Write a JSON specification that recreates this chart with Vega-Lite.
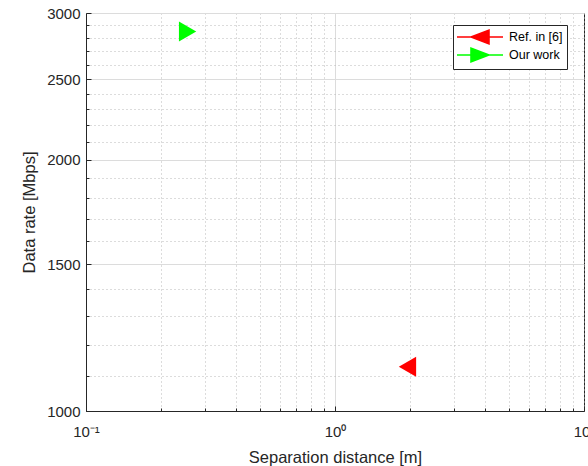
{
  "$schema": "https://vega.github.io/schema/vega-lite/v6.json",
  "width": 498,
  "height": 398,
  "autosize": {"type": "none"},
  "padding": {"left": 86, "top": 13, "right": 4, "bottom": 55},
  "background": "white",
  "config": {
    "view": {"stroke": "#262626", "strokeWidth": 1},
    "font": "Liberation Sans",
    "axis": {
      "domainColor": "#262626",
      "tickColor": "#262626",
      "labelColor": "#262626",
      "titleColor": "#262626",
      "labelFont": "Liberation Sans",
      "titleFont": "Liberation Sans",
      "labelFontSize": 15,
      "titleFontSize": 16.5,
      "titleFontWeight": "normal"
    },
    "legend": {
      "labelFont": "Liberation Sans",
      "labelFontSize": 12.5,
      "labelColor": "#000000"
    }
  },
  "data": {
    "values": [
      {"distance": 2, "rate": 1130, "series": "Ref. in [6]"},
      {"distance": 0.25, "rate": 2850, "series": "Our work"}
    ]
  },
  "layer": [
    {
      "mark": {"type": "point", "filled": true, "size": 400, "opacity": 1},
      "encoding": {
        "x": {
          "field": "distance",
          "type": "quantitative",
          "scale": {"type": "log", "domain": [0.1, 10], "nice": false},
          "axis": {
            "title": "Separation distance [m]",
            "values": [0.1, 0.2, 0.3, 0.4, 0.5, 0.6, 0.7, 0.8, 0.9, 1, 2, 3, 4, 5, 6, 7, 8, 9, 10],
            "labelExpr": "datum.value == 0.1 ? '10⁻¹' : datum.value == 1 ? '10⁰' : datum.value == 10 ? '10¹' : ''",
            "grid": true,
            "gridColor": {"condition": {"test": "datum.value == 1", "value": "#dcdcdc"}, "value": "#b8b8b8"},
            "gridDash": {"condition": {"test": "datum.value == 1", "value": []}, "value": [1, 3]},
            "gridWidth": 1,
            "tickSize": {"condition": {"test": "datum.value == 1 || datum.value == 0.1 || datum.value == 10", "value": -5}, "value": -3},
            "labelPadding": 18,
            "labelFlush": false,
            "labelOverlap": false,
            "titlePadding": 8
          }
        },
        "y": {
          "field": "rate",
          "type": "quantitative",
          "scale": {"type": "log", "domain": [1000, 3000], "nice": false},
          "axis": {
            "title": "Data rate [Mbps]",
            "values": [1000, 1100, 1200, 1300, 1400, 1500, 1600, 1700, 1800, 1900, 2000, 2100, 2200, 2300, 2400, 2500, 2600, 2700, 2800, 2900, 3000],
            "labelExpr": "datum.value % 500 == 0 ? datum.value : ''",
            "grid": true,
            "gridColor": {"condition": {"test": "datum.value % 500 == 0", "value": "#dcdcdc"}, "value": "#b8b8b8"},
            "gridDash": {"condition": {"test": "datum.value % 500 == 0", "value": []}, "value": [1, 3]},
            "gridWidth": 1,
            "tickSize": {"condition": {"test": "datum.value % 500 == 0", "value": -5}, "value": -3},
            "labelPadding": 11,
            "labelFlush": false,
            "labelOverlap": false,
            "titlePadding": 9
          }
        },
        "color": {
          "field": "series",
          "type": "nominal",
          "scale": {"domain": ["Ref. in [6]", "Our work"], "range": ["#ff0000", "#00ff00"]},
          "legend": null
        },
        "shape": {
          "field": "series",
          "type": "nominal",
          "scale": {
            "domain": ["Ref. in [6]", "Our work"],
            "range": ["M-1.116,0L0.616,-1L0.616,1Z", "M1.116,0L-0.616,-1L-0.616,1Z"]
          },
          "legend": null
        }
      }
    },
    {
      "mark": {"type": "point", "filled": true, "size": 0, "opacity": 1, "strokeWidth": 1.5},
      "encoding": {
        "x": {"field": "distance", "type": "quantitative"},
        "y": {"field": "rate", "type": "quantitative"},
        "color": {
          "field": "series",
          "type": "nominal",
          "scale": {"domain": ["Ref. in [6]", "Our work"], "range": ["#ff0000", "#00ff00"]},
          "legend": {
            "title": null,
            "orient": "none",
            "legendX": 367,
            "legendY": 12,
            "strokeColor": "#262626",
            "fillColor": "#ffffff",
            "padding": 4,
            "symbolSize": 196,
            "symbolOpacity": 1,
            "symbolStrokeWidth": 1.5,
            "symbolOffset": 15,
            "labelOffset": 21,
            "rowPadding": -2
          }
        },
        "stroke": {
          "field": "series",
          "type": "nominal",
          "scale": {"domain": ["Ref. in [6]", "Our work"], "range": ["#ff0000", "#00ff00"]}
        },
        "shape": {
          "field": "series",
          "type": "nominal",
          "scale": {
            "domain": ["Ref. in [6]", "Our work"],
            "range": ["M-3.29,0L3.29,0M-1.29,0L1.29,-1L1.29,1Z", "M-3.29,0L3.29,0M1.29,0L-1.29,-1L-1.29,1Z"]
          }
        }
      }
    }
  ],
  "resolve": {"scale": {"color": "independent", "shape": "independent", "stroke": "independent"}}
}
